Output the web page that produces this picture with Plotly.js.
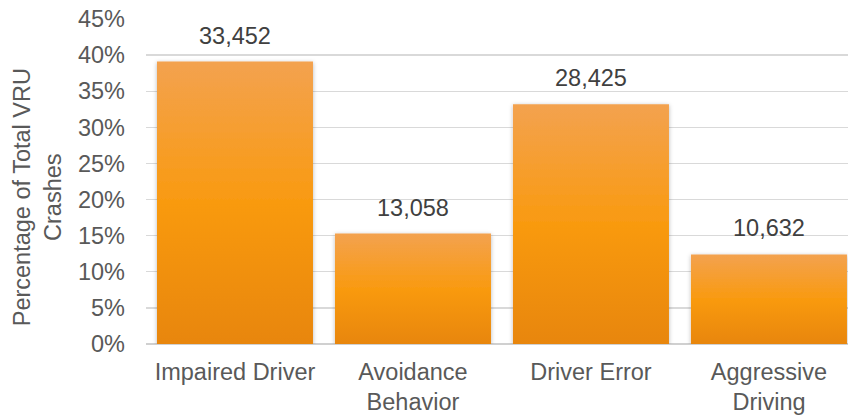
<!DOCTYPE html>
<html>
<head>
<meta charset="utf-8">
<script src="https://cdn.plot.ly/plotly-3.0.1.min.js"></script>
<style>
  html, body { margin: 0; padding: 0; background: #ffffff; }
  #chart { width: 848px; height: 416px; }
</style>
</head>
<body>
<div id="chart"></div>
<script>
// ---- data ----
var categories = ['Impaired Driver', 'Avoidance<br>Behavior', 'Driver Error', 'Aggressive<br>Driving'];
var percentages = [39.1, 15.3, 33.2, 12.4];
var crashCounts = [33452, 13058, 28425, 10632];
var yTickValues = [0, 5, 10, 15, 20, 25, 30, 35, 40, 45];
var yTitleLines = ['Percentage of Total VRU', 'Crashes'];

var FONT = '"Liberation Sans", Arial, sans-serif';

var trace = {
  type: 'bar',
  x: categories,
  y: percentages,
  marker: { color: '#F7971C', line: { width: 0 } },
  hoverinfo: 'none'
};

var annotations = crashCounts.map(function (c, i) {
  return {
    x: i, y: percentages[i], xref: 'x', yref: 'y',
    text: c.toLocaleString('en-US'),
    showarrow: false, yanchor: 'bottom', xanchor: 'center',
    yshift: 11,
    font: { family: FONT, size: 23.5, color: '#404040' }
  };
});
annotations.push({
  xref: 'paper', yref: 'paper', x: -0.155, y: 0.452,
  xanchor: 'center', yanchor: 'middle',
  text: yTitleLines.join('<br>'),
  textangle: -90, showarrow: false,
  font: { family: FONT, size: 23.5, color: '#595959' }
});

var layout = {
  width: 848, height: 416,
  margin: { l: 146, r: 0, t: 19, b: 72, pad: 0 },
  paper_bgcolor: '#ffffff', plot_bgcolor: '#ffffff',
  showlegend: false,
  bargap: 0.1236,
  font: { family: FONT, size: 23.5, color: '#595959' },
  xaxis: {
    type: 'category',
    range: [-0.5, 3.444],
    showgrid: false, zeroline: false, showline: false,
    ticks: '', ticklabelstandoff: 11,
    tickfont: { family: FONT, size: 23.5, color: '#595959' },
    fixedrange: true
  },
  yaxis: {
    range: [0, 45],
    tickvals: yTickValues,
    ticktext: yTickValues.map(function (v) { return v + '%'; }),
    showgrid: true, gridcolor: '#d9d9d9', gridwidth: 1.3,
    zeroline: true, zerolinecolor: '#d0d0d0', zerolinewidth: 1.5,
    showline: false, ticks: '', ticklabelstandoff: 20,
    tickfont: { family: FONT, size: 23.5, color: '#595959' },
    fixedrange: true
  },
  annotations: annotations
};

function styleBars(gd) {
  var svg = gd.querySelector('svg.main-svg');
  if (!svg) return;
  var ns = 'http://www.w3.org/2000/svg';
  var defs = svg.querySelector('defs');
  if (!defs) { defs = document.createElementNS(ns, 'defs'); svg.insertBefore(defs, svg.firstChild); }
  if (!svg.querySelector('#barGrad')) {
    var g = document.createElementNS(ns, 'linearGradient');
    g.setAttribute('id', 'barGrad');
    g.setAttribute('x1', '0'); g.setAttribute('y1', '0');
    g.setAttribute('x2', '0'); g.setAttribute('y2', '1');
    [['0', '#F3A24F'], ['0.5', '#F99A10'], ['1', '#E8860A']].forEach(function (s) {
      var st = document.createElementNS(ns, 'stop');
      st.setAttribute('offset', s[0]);
      st.setAttribute('stop-color', s[1]);
      g.appendChild(st);
    });
    defs.appendChild(g);
    var f = document.createElementNS(ns, 'filter');
    f.setAttribute('id', 'barShadow');
    f.setAttribute('x', '-10%'); f.setAttribute('y', '-10%');
    f.setAttribute('width', '120%'); f.setAttribute('height', '120%');
    var ds = document.createElementNS(ns, 'feDropShadow');
    ds.setAttribute('dx', '0'); ds.setAttribute('dy', '1');
    ds.setAttribute('stdDeviation', '2.2');
    ds.setAttribute('flood-color', '#000000');
    ds.setAttribute('flood-opacity', '0.28');
    f.appendChild(ds);
    defs.appendChild(f);
  }
  gd.querySelectorAll('g.trace.bars path').forEach(function (p) {
    p.style.fill = 'url(#barGrad)';
    p.style.filter = 'url(#barShadow)';
  });
}

var gd = document.getElementById('chart');
Plotly.newPlot(gd, [trace], layout, { staticPlot: true, displayModeBar: false })
  .then(function () { styleBars(gd); });
</script>
</body>
</html>
